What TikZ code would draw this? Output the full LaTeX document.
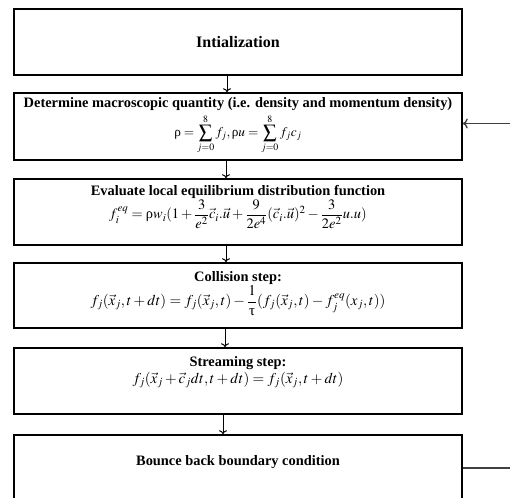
\documentclass[tikz,border=0pt]{standalone}
\usepackage{amsmath}
\usepackage{mathptmx}
\usepackage{fontspec}
\setmainfont{Liberation Serif}
\usetikzlibrary{arrows.meta,positioning,calc}
\newcommand{\eqfont}{\fontsize{15}{17}\selectfont}
\newcommand{\rhoup}{\text{ρ}}
\newcommand{\tauup}{\text{τ}}

\begin{document}
\begin{tikzpicture}[
    x=1pt, y=-1pt,
    stepbox/.style={rectangle, draw=black, line width=1.6pt, minimum width=448pt, minimum height=66pt, inner sep=0pt},
    content/.style={align=center, inner sep=0pt, font=\fontsize{14.4}{17}\selectfont},
    flow/.style={-{To[length=4pt,width=8pt]}, line width=1pt},
    loopline/.style={draw=black!75, line width=1.3pt, -{To[length=5pt,width=10pt]}}
]
    \useasboundingbox (0,0) rectangle (510,497);
    \clip (0,0) rectangle (510,497);

    % Boxes
    \node[stepbox] (init) at (238,42) {};
    \node[stepbox, minimum height=67pt] (macro) at (238,126.5) {};
    \node[stepbox] (equil) at (238,212) {};
    \node[stepbox, minimum height=65pt] (coll) at (238,295.5) {};
    \node[stepbox] (stream) at (238,381) {};
    \node[stepbox] (bounce) at (238,468) {};

    % Texts
    \node[content, font=\bfseries\fontsize{16}{19}\selectfont] (initT) at (init) {Intialization};
    \node[content, below=5pt of macro.north] (macroT) {\textbf{Determine macroscopic quantity (i.e. density and momentum density)}\\[3pt]
        {\fontsize{13.3}{15}\selectfont$\displaystyle \rhoup=\sum_{j=0}^{8} f_j,\rhoup u=\sum_{j=0}^{8} f_j c_j$}};
    \node[content, below=7pt of equil.north] (equilT) {\textbf{Evaluate local equilibrium distribution function}\\[0pt]
        {\fontsize{14.4}{17}\selectfont$\displaystyle f_i^{eq}=\rhoup w_i(1+\frac{3}{e^2}\vec{c}_i.\vec{u}+\frac{9}{2e^4}(\vec{c}_i.\vec{u})^2-\frac{3}{2e^2}u.u)$}};
    \node[content, below=9pt of coll.north] (collT) {\textbf{Collision step:}\\[0pt]
        {\eqfont$\displaystyle f_j(\vec{x}_j,t+dt)=f_j(\vec{x}_j,t)-\frac{1}{\tauup}(f_j(\vec{x}_j,t)-f_j^{eq}(x_j,t))$}};
    \node[content, below=9pt of stream.north] (streamT) {\textbf{Streaming step:}\\[0pt]
        {\eqfont$f_{j}(\vec{x}_{j}+\vec{c}_{j}dt,t+dt)=f_{j}(\vec{x}_{j},t+dt)$}};
    \node[content, font=\bfseries\fontsize{14.4}{17}\selectfont, below=21pt of bounce.north] (bounceT) {Bounce back boundary condition};

    % Flow arrows
    \draw[flow] ([xshift=-11pt]init.south) -- ([xshift=-11pt]macro.north);
    \draw[flow] ([xshift=-12pt]macro.south) -- ([xshift=-12pt]equil.north);
    \draw[flow] ([xshift=-12pt]equil.south) -- ([xshift=-12pt]coll.north);
    \draw[flow] ([xshift=-13pt]coll.south) -- ([xshift=-13pt]stream.north);
    \draw[flow] ([xshift=-15pt]stream.south) -- ([xshift=-15pt]bounce.north);

    % Feedback loop
    \draw[loopline] (bounce.east) -- ++(60,0) |- ([yshift=3pt]macro.east);

\end{tikzpicture}
\end{document}
